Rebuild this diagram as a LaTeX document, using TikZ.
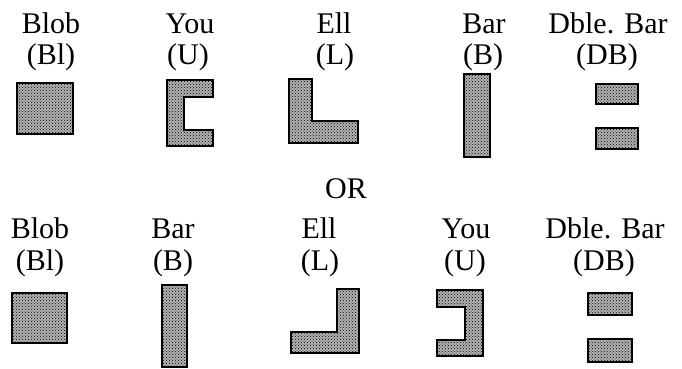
\documentclass[tikz,border=0pt]{standalone}
\usepackage{fontspec}
\setmainfont{Liberation Serif}
\usepackage{tikz}
\usetikzlibrary{patterns}
\tikzset{
  lbl/.style={anchor=base, inner sep=0pt, font=\fontsize{30}{31}\selectfont},
  shp/.style={draw=black, line width=1.8pt, preaction={fill=black!30}, pattern=crosshatch dots, pattern color=black},
}

\begin{document}
\begin{tikzpicture}[x=1pt,y=-1pt]
\useasboundingbox (0,0) rectangle (682,368);
% top row
\node[lbl] (bl1) at (51,33) {Blob};
\node[lbl] (bl1ab) at (51,64) {(Bl)};
\node[lbl] (u1) at (190,33) {You};
\node[lbl] (u1ab) at (188,64) {(U)};
\node[lbl] (l1) at (334,33) {Ell};
\node[lbl] (l1ab) at (335,64) {(L)};
\node[lbl] (b1) at (484,33) {Bar};
\node[lbl] (b1ab) at (483,64) {(B)};
\node[lbl] (db1) at (608,33) {Dble. Bar};
\node[lbl] (db1ab) at (607,64) {(DB)};
\draw[shp] (17,83) rectangle (73,134);
\draw[shp] (167,80) -- (213,80) -- (213,97) -- (184,97) -- (184,130) -- (213,130) -- (213,146) -- (167,146) -- cycle;
\draw[shp] (289,79) -- (312,79) -- (312,121) -- (358,121) -- (358,143) -- (289,143) -- cycle;
\draw[shp] (464,74) rectangle (490,157);
\draw[shp] (596,84) rectangle (638,104);
\draw[shp] (596,128) rectangle (638,149);
% middle
\node[lbl] (or) at (346,198) {OR};
% bottom row
\node[lbl] (bl2) at (40,238) {Blob};
\node[lbl] (bl2ab) at (40,270) {(Bl)};
\node[lbl] (b2) at (173,238) {Bar};
\node[lbl] (b2ab) at (173,270) {(B)};
\node[lbl] (l2) at (319,238) {Ell};
\node[lbl] (l2ab) at (320,270) {(L)};
\node[lbl] (u2) at (466,238) {You};
\node[lbl] (u2ab) at (465,270) {(U)};
\node[lbl] (db2) at (605,238) {Dble. Bar};
\node[lbl] (db2ab) at (604,270) {(DB)};
\draw[shp] (12,293) rectangle (67,343);
\draw[shp] (162,285) rectangle (187,367);
\draw[shp] (337,289) -- (359,289) -- (359,353) -- (291,353) -- (291,332) -- (337,332) -- cycle;
\draw[shp] (437,290) -- (483,290) -- (483,356) -- (437,356) -- (437,340) -- (465,340) -- (465,307) -- (437,307) -- cycle;
\draw[shp] (588,293) rectangle (632,315);
\draw[shp] (588,339) rectangle (632,362);
\end{tikzpicture}
\end{document}
